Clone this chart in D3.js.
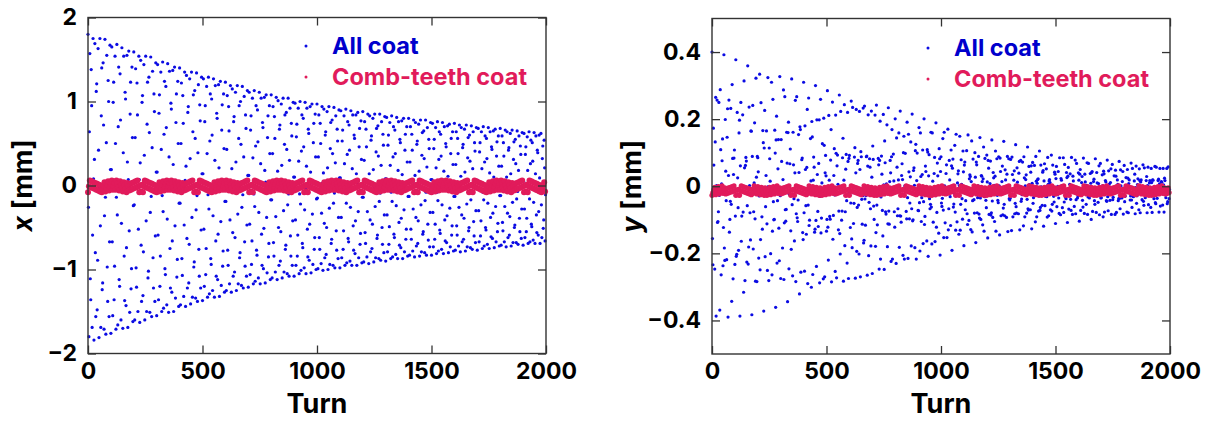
<!DOCTYPE html>
<html>
<head>
<meta charset="utf-8">
<script src="https://cdn.jsdelivr.net/npm/d3@7"></script>
<style>
  html, body { margin: 0; padding: 0; background: #fff; }
  svg { display: block; }
</style>
</head>
<body>
<svg id="chart" width="1209" height="422"></svg>
<script>
// every n-th turn is plotted
const allCoatStep = 2;
const combCoatStep = 4;

const turnTicks = [0, 500, 1000, 1500, 2000];
const xTicks = [-2, -1, 0, 1, 2];
const yTicks = [-0.4, -0.2, 0, 0.2, 0.4];
const legendLabels = ["All coat", "Comb-teeth coat"];

// horizontal position [mm], all coat
const xAllCoat = [
1.80,-0.26,-1.80,0.64,1.57,-1.11,-1.36,1.38,0.95,-1.69,
-0.59,1.75,0.08,-1.84,0.31,1.69,-0.80,-1.56,1.12,1.21,
-1.48,-0.89,1.63,0.42,-1.81,-0.03,1.75,-0.48,-1.69,0.83,
1.40,-1.24,-1.16,1.46,0.72,-1.71,-0.36,1.74,-0.14,-1.77,
0.51,1.55,-0.97,-1.38,1.25,1.00,-1.56,-0.67,1.67,0.19,
-1.76,0.19,1.65,-0.67,-1.55,0.99,1.23,-1.36,-0.96,1.54,
0.50,-1.71,-0.14,1.68,-0.35,-1.66,0.70,1.41,-1.12,-1.20,
1.33,0.78,-1.60,-0.45,1.64,-0.03,-1.70,0.39,1.54,-0.84,
-1.37,1.11,1.03,-1.43,-0.74,1.55,0.28,-1.69,0.07,1.60,
-0.54,-1.51,0.85,1.23,-1.23,-0.99,1.41,0.57,-1.62,-0.24,
1.59,-0.23,-1.60,0.57,1.39,-0.98,-1.21,1.22,0.84,-1.50,
-0.52,1.54,0.07,-1.63,0.27,1.49,-0.71,-1.38,0.99,1.07,
-1.31,-0.79,1.44,0.36,-1.60,-0.03,1.54,-0.42,-1.50,0.73,
1.23,-1.10,-1.02,1.29,0.63,-1.51,-0.32,1.53,-0.13,-1.56,
0.45,1.36,-0.86,-1.22,1.09,0.88,-1.38,-0.60,1.46,0.16,
-1.55,0.16,1.44,-0.59,-1.36,0.86,1.08,-1.20,-0.84,1.35,
0.43,-1.50,-0.12,1.47,-0.31,-1.46,0.61,1.24,-0.99,-1.06,
1.18,0.69,-1.42,-0.40,1.45,-0.03,-1.51,0.34,1.36,-0.75,
-1.22,0.98,0.91,-1.27,-0.66,1.37,0.25,-1.50,0.06,1.41,
-0.48,-1.34,0.75,1.09,-1.09,-0.88,1.24,0.50,-1.44,-0.21,
1.40,-0.21,-1.42,0.50,1.22,-0.87,-1.07,1.07,0.74,-1.32,
-0.47,1.35,0.06,-1.44,0.23,1.31,-0.63,-1.22,0.87,0.94,
-1.16,-0.70,1.27,0.32,-1.41,-0.03,1.35,-0.38,-1.33,0.64,
1.08,-0.97,-0.91,1.13,0.56,-1.34,-0.29,1.34,-0.12,-1.38,
0.39,1.20,-0.76,-1.08,0.96,0.77,-1.22,-0.53,1.29,0.14,
-1.37,0.14,1.27,-0.52,-1.20,0.76,0.95,-1.06,-0.75,1.18,
0.38,-1.33,-0.11,1.29,-0.28,-1.29,0.53,1.09,-0.87,-0.94,
1.03,0.60,-1.25,-0.36,1.27,-0.03,-1.33,0.30,1.19,-0.66,
-1.08,0.86,0.80,-1.12,-0.58,1.20,0.21,-1.32,0.05,1.24,
-0.43,-1.19,0.66,0.96,-0.96,-0.78,1.09,0.44,-1.27,-0.19,
1.23,-0.19,-1.25,0.43,1.07,-0.77,-0.95,0.94,0.65,-1.17,
-0.41,1.19,0.05,-1.27,0.20,1.15,-0.56,-1.08,0.76,0.82,
-1.03,-0.62,1.11,0.28,-1.25,-0.03,1.19,-0.34,-1.17,0.56,
0.95,-0.86,-0.80,1.00,0.49,-1.19,-0.26,1.18,-0.11,-1.22,
0.34,1.06,-0.67,-0.96,0.84,0.68,-1.08,-0.47,1.13,0.12,
-1.21,0.12,1.11,-0.46,-1.06,0.66,0.83,-0.94,-0.66,1.04,
0.33,-1.17,-0.10,1.13,-0.25,-1.14,0.47,0.95,-0.77,-0.83,
0.90,0.52,-1.10,-0.32,1.11,-0.03,-1.17,0.26,1.04,-0.58,
-0.95,0.75,0.69,-0.99,-0.51,1.05,0.18,-1.16,0.04,1.08,
-0.38,-1.04,0.57,0.83,-0.85,-0.69,0.95,0.38,-1.12,-0.17,
1.08,-0.17,-1.10,0.38,0.94,-0.68,-0.84,0.82,0.56,-1.03,
-0.37,1.05,0.04,-1.12,0.17,1.01,-0.50,-0.95,0.67,0.72,
-0.90,-0.55,0.97,0.24,-1.10,-0.03,1.04,-0.30,-1.03,0.49,
0.84,-0.76,-0.71,0.87,0.43,-1.05,-0.23,1.04,-0.10,-1.08,
0.30,0.92,-0.60,-0.84,0.74,0.59,-0.95,-0.42,0.99,0.10,
-1.08,0.10,0.98,-0.41,-0.95,0.58,0.73,-0.84,-0.59,0.92,
0.29,-1.05,-0.10,1.00,-0.22,-1.01,0.41,0.84,-0.69,-0.74,
0.80,0.46,-0.98,-0.29,0.99,-0.03,-1.05,0.23,0.92,-0.52,
-0.85,0.67,0.62,-0.89,-0.46,0.94,0.16,-1.04,0.03,0.97,
-0.34,-0.94,0.51,0.74,-0.76,-0.62,0.85,0.34,-1.00,-0.16,
0.97,-0.15,-0.99,0.34,0.84,-0.62,-0.76,0.74,0.50,-0.93,
-0.33,0.94,0.03,-1.01,0.15,0.91,-0.45,-0.86,0.60,0.64,
-0.82,-0.50,0.88,0.21,-1.00,-0.03,0.94,-0.27,-0.94,0.44,
0.75,-0.69,-0.64,0.78,0.38,-0.95,-0.21,0.93,-0.09,-0.98,
0.27,0.83,-0.54,-0.77,0.67,0.53,-0.87,-0.38,0.90,0.09,
-0.98,0.09,0.89,-0.38,-0.86,0.53,0.66,-0.76,-0.54,0.83,
0.26,-0.95,-0.09,0.91,-0.21,-0.92,0.37,0.76,-0.63,-0.67,
0.72,0.42,-0.90,-0.26,0.89,-0.03,-0.95,0.20,0.84,-0.48,
-0.77,0.60,0.56,-0.81,-0.42,0.84,0.14,-0.95,0.03,0.87,
-0.31,-0.86,0.46,0.68,-0.70,-0.57,0.77,0.31,-0.92,-0.14,
0.88,-0.14,-0.91,0.30,0.76,-0.56,-0.69,0.67,0.46,-0.85,
-0.31,0.85,0.03,-0.93,0.14,0.83,-0.41,-0.79,0.54,0.59,
-0.75,-0.46,0.80,0.19,-0.91,-0.03,0.85,-0.25,-0.86,0.40,
0.68,-0.63,-0.59,0.71,0.35,-0.87,-0.19,0.85,-0.09,-0.89,
0.24,0.76,-0.50,-0.70,0.61,0.48,-0.80,-0.35,0.82,0.08,
-0.90,0.08,0.81,-0.35,-0.79,0.48,0.60,-0.70,-0.49,0.75,
0.24,-0.87,-0.08,0.83,-0.19,-0.85,0.34,0.70,-0.58,-0.62,
0.66,0.38,-0.82,-0.24,0.81,-0.03,-0.87,0.18,0.76,-0.44,
-0.71,0.55,0.51,-0.74,-0.39,0.77,0.13,-0.87,0.02,0.80,
-0.29,-0.79,0.42,0.61,-0.64,-0.52,0.70,0.28,-0.84,-0.13,
0.80,-0.13,-0.83,0.28,0.70,-0.52,-0.64,0.61,0.42,-0.78,
-0.28,0.78,0.02,-0.85,0.12,0.75,-0.38,-0.72,0.49,0.53,
-0.69,-0.42,0.73,0.17,-0.84,-0.03,0.78,-0.23,-0.79,0.36,
0.63,-0.58,-0.55,0.65,0.32,-0.80,-0.18,0.78,-0.08,-0.83,
0.22,0.69,-0.46,-0.65,0.55,0.44,-0.73,-0.32,0.75,0.07,
-0.83,0.07,0.74,-0.32,-0.73,0.44,0.55,-0.64,-0.46,0.69,
0.21,-0.81,-0.08,0.76,-0.18,-0.78,0.31,0.64,-0.53,-0.57,
0.61,0.35,-0.76,-0.23,0.75,-0.03,-0.81,0.17,0.70,-0.41,
-0.66,0.50,0.46,-0.68,-0.36,0.71,0.11,-0.80,0.02,0.73,
-0.27,-0.73,0.38,0.56,-0.59,-0.48,0.64,0.25,-0.78,-0.13,
0.74,-0.13,-0.77,0.25,0.64,-0.48,-0.59,0.56,0.38,-0.72,
-0.26,0.72,0.02,-0.79,0.11,0.69,-0.35,-0.67,0.45,0.49,
-0.64,-0.39,0.67,0.16,-0.78,-0.03,0.72,-0.22,-0.73,0.33,
0.57,-0.54,-0.50,0.60,0.29,-0.74,-0.17,0.71,-0.08,-0.76,
0.20,0.64,-0.43,-0.60,0.51,0.41,-0.68,-0.30,0.69,0.06,
-0.77,0.06,0.68,-0.30,-0.67,0.40,0.51,-0.60,-0.42,0.64,
0.20,-0.75,-0.08,0.70,-0.17,-0.72,0.28,0.59,-0.50,-0.53,
0.56,0.32,-0.70,-0.21,0.69,-0.03,-0.75,0.15,0.64,-0.38,
-0.61,0.46,0.43,-0.63,-0.33,0.65,0.10,-0.74,0.02,0.67,
-0.25,-0.67,0.35,0.52,-0.55,-0.45,0.59,0.23,-0.72,-0.12,
0.68,-0.12,-0.71,0.23,0.59,-0.44,-0.54,0.51,0.35,-0.67,
-0.25,0.66,0.01,-0.73,0.10,0.64,-0.33,-0.62,0.42,0.45,
-0.59,-0.37,0.62,0.14,-0.72,-0.03,0.66,-0.20,-0.68,0.31,
0.52,-0.50,-0.47,0.55,0.26,-0.68,-0.16,0.65,-0.07,-0.70,
0.18,0.59,-0.39,-0.55,0.47,0.37,-0.63,-0.28,0.63,0.06,
-0.71,0.05,0.62,-0.28,-0.62,0.37,0.46,-0.55,-0.39,0.58,
0.18,-0.69,-0.07,0.64,-0.16,-0.67,0.26,0.54,-0.46,-0.49,
0.51,0.29,-0.65,-0.20,0.63,-0.03,-0.69,0.14,0.59,-0.35,
-0.56,0.42,0.39,-0.59,-0.31,0.60,0.09,-0.69,0.01,0.62,
-0.23,-0.62,0.32,0.47,-0.51,-0.41,0.54,0.21,-0.66,-0.11
];

// horizontal position [mm], comb-teeth coat
const xCombCoat = [
-0.08,-0.01,0.06,-0.02,0.05,-0.03,0.04,-0.04,0.03,-0.05,0.02,-0.06,0.01,-0.07,0.00,
-0.08,-0.04,0.00,0.04,-0.07,-0.03,0.01,0.05,-0.06,-0.02,0.02,0.06,-0.05,-0.01,0.03,
-0.05,0.06,0.02,-0.02,-0.06,0.05,0.01,-0.03,-0.07,0.04,0.00,-0.04,-0.08,0.03,-0.01,
-0.06,0.02,-0.05,0.03,-0.04,0.04,-0.03,0.05,-0.02,0.06,-0.01,-0.08,0.00,-0.07,0.01,
-0.08,-0.01,0.06,-0.02,0.05,-0.03,0.04,-0.04,0.03,-0.05,0.02,-0.06,0.01,-0.07,0.00,
-0.08,-0.04,0.00,0.04,-0.07,-0.03,0.01,0.05,-0.06,-0.02,0.02,0.06,-0.05,-0.01,0.03,
-0.05,0.06,0.02,-0.02,-0.06,0.05,0.01,-0.03,-0.07,0.04,0.00,-0.04,-0.08,0.03,-0.01,
-0.06,0.02,-0.05,0.03,-0.04,0.04,-0.03,0.05,-0.02,0.06,-0.01,-0.08,0.00,-0.07,0.01,
-0.08,-0.01,0.06,-0.02,0.05,-0.03,0.04,-0.04,0.03,-0.05,0.02,-0.06,0.01,-0.07,0.00,
-0.08,-0.04,0.00,0.04,-0.07,-0.03,0.01,0.05,-0.06,-0.02,0.02,0.06,-0.05,-0.01,0.03,
-0.05,0.06,0.02,-0.02,-0.06,0.05,0.01,-0.03,-0.07,0.04,0.00,-0.04,-0.08,0.03,-0.01,
-0.06,0.02,-0.05,0.03,-0.04,0.04,-0.03,0.05,-0.02,0.06,-0.01,-0.08,0.00,-0.07,0.01,
-0.08,-0.01,0.06,-0.02,0.05,-0.03,0.04,-0.04,0.03,-0.05,0.02,-0.06,0.01,-0.07,0.00,
-0.08,-0.04,0.00,0.04,-0.07,-0.03,0.01,0.05,-0.06,-0.02,0.02,0.06,-0.05,-0.01,0.03,
-0.05,0.06,0.02,-0.02,-0.06,0.05,0.01,-0.03,-0.07,0.04,0.00,-0.04,-0.08,0.03,-0.01,
-0.06,0.02,-0.05,0.03,-0.04,0.04,-0.03,0.05,-0.02,0.06,-0.01,-0.08,0.00,-0.07,0.01,
-0.08,-0.01,0.06,-0.02,0.05,-0.03,0.04,-0.04,0.03,-0.05,0.02,-0.06,0.01,-0.07,0.00,
-0.08,-0.04,0.00,0.04,-0.07,-0.03,0.01,0.05,-0.06,-0.02,0.02,0.06,-0.05,-0.01,0.03,
-0.05,0.06,0.02,-0.02,-0.06,0.05,0.01,-0.03,-0.07,0.04,0.00,-0.04,-0.08,0.03,-0.01,
-0.06,0.02,-0.05,0.03,-0.04,0.04,-0.03,0.05,-0.02,0.06,-0.01,-0.08,0.00,-0.07,0.01,
-0.08,-0.01,0.06,-0.02,0.05,-0.03,0.04,-0.04,0.03,-0.05,0.02,-0.06,0.01,-0.07,0.00,
-0.08,-0.04,0.00,0.04,-0.07,-0.03,0.01,0.05,-0.06,-0.02,0.02,0.06,-0.05,-0.01,0.03,
-0.05,0.06,0.02,-0.02,-0.06,0.05,0.01,-0.03,-0.07,0.04,0.00,-0.04,-0.08,0.03,-0.01,
-0.06,0.02,-0.05,0.03,-0.04,0.04,-0.03,0.05,-0.02,0.06,-0.01,-0.08,0.00,-0.07,0.01,
-0.08,-0.01,0.06,-0.02,0.05,-0.03,0.04,-0.04,0.03,-0.05,0.02,-0.06,0.01,-0.07,0.00,
-0.08,-0.04,0.00,0.04,-0.07,-0.03,0.01,0.05,-0.06,-0.02,0.02,0.06,-0.05,-0.01,0.03,
-0.05,0.06,0.02,-0.02,-0.06,0.05,0.01,-0.03,-0.07,0.04,0.00,-0.04,-0.08,0.03,-0.01,
-0.06,0.02,-0.05,0.03,-0.04,0.04,-0.03,0.05,-0.02,0.06,-0.01,-0.08,0.00,-0.07,0.01,
-0.08,-0.01,0.06,-0.02,0.05,-0.03,0.04,-0.04,0.03,-0.05,0.02,-0.06,0.01,-0.07,0.00,
-0.08,-0.04,0.00,0.04,-0.07,-0.03,0.01,0.05,-0.06,-0.02,0.02,0.06,-0.05,-0.01,0.03,
-0.05,0.06,0.02,-0.02,-0.06,0.05,0.01,-0.03,-0.07,0.04,0.00,-0.04,-0.08,0.03,-0.01,
-0.06,0.02,-0.05,0.03,-0.04,0.04,-0.03,0.05,-0.02,0.06,-0.01,-0.08,0.00,-0.07,0.01,
-0.08,-0.01,0.06,-0.02,0.05,-0.03,0.04,-0.04,0.03,-0.05,0.02,-0.06,0.01,-0.07,0.00,
-0.08,-0.04,0.00,0.04,-0.07
];

// vertical position [mm], all coat
const yAllCoat = [
0.400,-0.156,-0.234,0.173,0.063,-0.020,-0.247,0.132,0.265,-0.387,
0.002,0.257,-0.108,-0.105,-0.076,0.250,-0.027,-0.369,0.288,0.109,
-0.264,0.007,0.076,0.141,-0.237,-0.123,0.392,-0.184,-0.221,0.199,
0.045,-0.043,-0.219,0.146,0.231,-0.390,0.032,0.257,-0.137,-0.099,
-0.045,0.232,-0.054,-0.343,0.303,0.083,-0.276,0.035,0.084,0.108,
-0.233,-0.089,0.377,-0.209,-0.203,0.220,0.025,-0.064,-0.191,0.159,
0.197,-0.387,0.061,0.250,-0.164,-0.089,-0.016,0.213,-0.077,-0.316,
0.314,0.055,-0.281,0.062,0.086,0.075,-0.226,-0.058,0.359,-0.232,
-0.181,0.236,0.002,-0.079,-0.160,0.165,0.164,-0.383,0.089,0.241,
-0.187,-0.076,0.010,0.189,-0.097,-0.283,0.322,0.027,-0.284,0.089,
0.085,0.043,-0.214,-0.029,0.334,-0.249,-0.159,0.249,-0.022,-0.091,
-0.128,0.166,0.130,-0.372,0.114,0.226,-0.210,-0.061,0.032,0.165,
-0.112,-0.251,0.324,-0.001,-0.281,0.114,0.082,0.015,-0.201,-0.003,
0.310,-0.264,-0.134,0.259,-0.046,-0.100,-0.099,0.167,0.099,-0.361,
0.138,0.209,-0.229,-0.043,0.052,0.139,-0.125,-0.222,0.327,-0.028,
-0.275,0.139,0.074,-0.012,-0.184,0.020,0.287,-0.278,-0.109,0.267,
-0.070,-0.104,-0.069,0.161,0.069,-0.344,0.160,0.191,-0.246,-0.024,
0.067,0.111,-0.133,-0.188,0.320,-0.055,-0.267,0.161,0.064,-0.037,
-0.163,0.040,0.256,-0.284,-0.082,0.267,-0.094,-0.105,-0.041,0.154,
0.041,-0.321,0.177,0.169,-0.256,-0.003,0.079,0.084,-0.138,-0.159,
0.310,-0.079,-0.253,0.180,0.050,-0.058,-0.143,0.056,0.229,-0.290,
-0.056,0.263,-0.117,-0.101,-0.014,0.142,0.016,-0.301,0.193,0.147,
-0.263,0.018,0.087,0.057,-0.137,-0.128,0.300,-0.102,-0.239,0.198,
0.035,-0.075,-0.120,0.068,0.198,-0.288,-0.030,0.259,-0.139,-0.095,
0.010,0.127,-0.007,-0.276,0.203,0.122,-0.270,0.040,0.092,0.031,
-0.134,-0.099,0.285,-0.122,-0.220,0.211,0.018,-0.090,-0.098,0.078,
0.169,-0.285,-0.006,0.251,-0.158,-0.087,0.032,0.112,-0.026,-0.254,
0.212,0.098,-0.273,0.061,0.093,0.006,-0.130,-0.074,0.272,-0.141,
-0.202,0.223,0.000,-0.101,-0.074,0.085,0.143,-0.283,0.018,0.243,
-0.177,-0.076,0.051,0.095,-0.043,-0.229,0.220,0.074,-0.275,0.083,
0.092,-0.018,-0.123,-0.050,0.254,-0.157,-0.183,0.235,-0.019,-0.111,
-0.051,0.087,0.115,-0.274,0.040,0.229,-0.194,-0.063,0.068,0.077,
-0.056,-0.202,0.223,0.050,-0.270,0.103,0.088,-0.039,-0.113,-0.028,
0.233,-0.169,-0.161,0.239,-0.038,-0.116,-0.028,0.088,0.090,-0.265,
0.060,0.213,-0.207,-0.048,0.082,0.057,-0.067,-0.178,0.224,0.027,
-0.260,0.120,0.080,-0.059,-0.099,-0.009,0.212,-0.179,-0.138,0.242,
-0.056,-0.115,-0.006,0.083,0.064,-0.247,0.077,0.194,-0.217,-0.032,
0.090,0.036,-0.072,-0.148,0.214,0.004,-0.248,0.135,0.070,-0.076,
-0.083,0.007,0.183,-0.180,-0.112,0.234,-0.074,-0.113,0.014,0.077,
0.040,-0.224,0.088,0.169,-0.217,-0.015,0.096,0.016,-0.076,-0.122,
0.201,-0.016,-0.230,0.144,0.057,-0.088,-0.067,0.019,0.159,-0.182,
-0.088,0.224,-0.089,-0.107,0.032,0.067,0.020,-0.206,0.100,0.149,
-0.217,0.001,0.098,-0.003,-0.075,-0.097,0.191,-0.034,-0.215,0.155,
0.043,-0.097,-0.050,0.028,0.132,-0.178,-0.067,0.215,-0.103,-0.100,
0.047,0.055,0.003,-0.183,0.106,0.125,-0.217,0.017,0.099,-0.021,
-0.072,-0.073,0.175,-0.049,-0.193,0.159,0.029,-0.105,-0.034,0.035,
0.108,-0.171,-0.046,0.201,-0.114,-0.090,0.060,0.044,-0.011,-0.163,
0.109,0.102,-0.209,0.031,0.094,-0.037,-0.067,-0.054,0.161,-0.062,
-0.172,0.159,0.015,-0.107,-0.018,0.038,0.086,-0.165,-0.028,0.189,
-0.122,-0.078,0.069,0.031,-0.023,-0.140,0.112,0.082,-0.205,0.044,
0.088,-0.050,-0.060,-0.036,0.142,-0.071,-0.153,0.161,0.001,-0.109,
-0.003,0.038,0.064,-0.153,-0.012,0.170,-0.130,-0.067,0.077,0.019,
-0.031,-0.117,0.108,0.061,-0.191,0.054,0.081,-0.062,-0.053,-0.021,
0.122,-0.077,-0.131,0.155,-0.012,-0.106,0.010,0.037,0.046,-0.143,
0.002,0.149,-0.131,-0.054,0.079,0.006,-0.037,-0.098,0.105,0.043,
-0.177,0.063,0.072,-0.070,-0.043,-0.009,0.106,-0.082,-0.114,0.153,
-0.024,-0.102,0.022,0.034,0.029,-0.129,0.014,0.135,-0.136,-0.043,
0.081,-0.006,-0.040,-0.080,0.100,0.027,-0.168,0.072,0.064,-0.079,
-0.034,0.001,0.089,-0.083,-0.095,0.145,-0.035,-0.099,0.032,0.030,
0.014,-0.115,0.022,0.117,-0.134,-0.031,0.083,-0.017,-0.042,-0.064,
0.093,0.013,-0.154,0.077,0.054,-0.084,-0.026,0.008,0.075,-0.086,
-0.079,0.138,-0.044,-0.093,0.041,0.025,0.003,-0.105,0.030,0.105,
-0.134,-0.020,0.082,-0.027,-0.042,-0.049,0.088,0.001,-0.145,0.084,
0.044,-0.088,-0.016,0.014,0.060,-0.085,-0.065,0.134,-0.054,-0.088,
0.049,0.019,-0.007,-0.093,0.036,0.089,-0.135,-0.010,0.082,-0.037,
-0.041,-0.036,0.080,-0.010,-0.132,0.087,0.035,-0.091,-0.007,0.018,
0.046,-0.082,-0.051,0.124,-0.061,-0.080,0.055,0.012,-0.016,-0.082,
0.039,0.074,-0.130,0.000,0.077,-0.045,-0.038,-0.025,0.072,-0.019,
-0.118,0.088,0.025,-0.091,0.001,0.020,0.034,-0.080,-0.039,0.117,
-0.067,-0.071,0.059,0.005,-0.022,-0.070,0.042,0.061,-0.127,0.009,
0.071,-0.051,-0.034,-0.015,0.062,-0.026,-0.106,0.089,0.015,-0.091,
0.009,0.020,0.022,-0.074,-0.028,0.105,-0.072,-0.063,0.063,-0.002,
-0.027,-0.057,0.042,0.047,-0.119,0.016,0.067,-0.058,-0.030,-0.006,
0.052,-0.031,-0.092,0.086,0.006,-0.088,0.016,0.020,0.011,-0.070,
-0.018,0.093,-0.074,-0.054,0.063,-0.008,-0.030,-0.047,0.042,0.036,
-0.111,0.023,0.059,-0.061,-0.025,0.000,0.044,-0.035,-0.081,0.085,
-0.002,-0.085,0.023,0.018,0.002,-0.064,-0.010,0.085,-0.078,-0.047,
0.065,-0.015,-0.033,-0.037,0.041,0.026,-0.108,0.030,0.056,-0.068,
-0.020,0.006,0.037,-0.039,-0.072,0.086,-0.010,-0.084,0.030,0.016,
-0.006,-0.060,-0.003,0.078,-0.082,-0.040,0.068,-0.022,-0.035,-0.029,
0.040,0.018,-0.104,0.036,0.050,-0.072,-0.015,0.011,0.029,-0.042,
-0.062,0.084,-0.017,-0.081,0.036,0.013,-0.013,-0.054,0.003,0.070,
-0.084,-0.032,0.068,-0.029,-0.035,-0.021,0.038,0.009,-0.099,0.041,
0.044,-0.075,-0.009,0.014,0.021,-0.043,-0.054,0.082,-0.024,-0.078,
0.041,0.010,-0.019,-0.048,0.008,0.061,-0.085,-0.025,0.068,-0.035,
-0.034,-0.013,0.034,0.002,-0.091,0.045,0.037,-0.077,-0.004,0.017,
0.013,-0.043,-0.045,0.078,-0.031,-0.073,0.046,0.006,-0.024,-0.042,
0.011,0.052,-0.084,-0.018,0.065,-0.040,-0.033,-0.006,0.031,-0.005,
-0.084,0.048,0.030,-0.078,0.002,0.019,0.006,-0.043,-0.037,0.074,
-0.036,-0.067,0.049,0.001,-0.028,-0.035,0.014,0.044,-0.083,-0.011,
0.062,-0.046,-0.030,0.000,0.026,-0.010,-0.077,0.050,0.024,-0.079,
0.008,0.019,-0.001,-0.041,-0.029,0.069,-0.041,-0.063,0.053,-0.003,
-0.031,-0.029,0.016,0.036,-0.082,-0.004,0.060,-0.051,-0.028,0.005,
0.022,-0.015,-0.070,0.052,0.017,-0.079,0.013,0.019,-0.007,-0.040,
-0.022,0.064,-0.045,-0.057,0.055,-0.008,-0.034,-0.023,0.017,0.029,
-0.079,0.002,0.057,-0.055,-0.024,0.010,0.017,-0.019,-0.063,0.053,
0.011,-0.078,0.019,0.018,-0.013,-0.037,-0.016,0.059,-0.049,-0.052,
0.057,-0.013,-0.036,-0.016,0.017,0.021,-0.077,0.007,0.053,-0.059,
-0.021,0.014,0.012,-0.022,-0.056,0.053,0.004,-0.077,0.024,0.017,
-0.019,-0.034,-0.011,0.053,-0.052,-0.046,0.058,-0.019,-0.037,-0.010
];

// vertical position [mm], comb-teeth coat
const yCombCoat = [
-0.027,-0.019,-0.011,-0.003,-0.025,-0.017,-0.009,-0.001,-0.023,-0.015,-0.007,0.001,-0.021,-0.013,-0.005,
-0.023,-0.007,-0.021,-0.005,-0.019,-0.003,-0.017,-0.001,-0.015,0.001,-0.013,-0.027,-0.011,-0.025,-0.009,
-0.027,-0.013,0.001,-0.015,-0.001,-0.017,-0.003,-0.019,-0.005,-0.021,-0.007,-0.023,-0.009,-0.025,-0.011,
-0.021,0.001,-0.007,-0.015,-0.023,-0.001,-0.009,-0.017,-0.025,-0.003,-0.011,-0.019,-0.027,-0.005,-0.013,
-0.027,-0.019,-0.011,-0.003,-0.025,-0.017,-0.009,-0.001,-0.023,-0.015,-0.007,0.001,-0.021,-0.013,-0.005,
-0.023,-0.007,-0.021,-0.005,-0.019,-0.003,-0.017,-0.001,-0.015,0.001,-0.013,-0.027,-0.011,-0.025,-0.009,
-0.027,-0.013,0.001,-0.015,-0.001,-0.017,-0.003,-0.019,-0.005,-0.021,-0.007,-0.023,-0.009,-0.025,-0.011,
-0.021,0.001,-0.007,-0.015,-0.023,-0.001,-0.009,-0.017,-0.025,-0.003,-0.011,-0.019,-0.027,-0.005,-0.013,
-0.027,-0.019,-0.011,-0.003,-0.025,-0.017,-0.009,-0.001,-0.023,-0.015,-0.007,0.001,-0.021,-0.013,-0.005,
-0.023,-0.007,-0.021,-0.005,-0.019,-0.003,-0.017,-0.001,-0.015,0.001,-0.013,-0.027,-0.011,-0.025,-0.009,
-0.027,-0.013,0.001,-0.015,-0.001,-0.017,-0.003,-0.019,-0.005,-0.021,-0.007,-0.023,-0.009,-0.025,-0.011,
-0.021,0.001,-0.007,-0.015,-0.023,-0.001,-0.009,-0.017,-0.025,-0.003,-0.011,-0.019,-0.027,-0.005,-0.013,
-0.027,-0.019,-0.011,-0.003,-0.025,-0.017,-0.009,-0.001,-0.023,-0.015,-0.007,0.001,-0.021,-0.013,-0.005,
-0.023,-0.007,-0.021,-0.005,-0.019,-0.003,-0.017,-0.001,-0.015,0.001,-0.013,-0.027,-0.011,-0.025,-0.009,
-0.027,-0.013,0.001,-0.015,-0.001,-0.017,-0.003,-0.019,-0.005,-0.021,-0.007,-0.023,-0.009,-0.025,-0.011,
-0.021,0.001,-0.007,-0.015,-0.023,-0.001,-0.009,-0.017,-0.025,-0.003,-0.011,-0.019,-0.027,-0.005,-0.013,
-0.027,-0.019,-0.011,-0.003,-0.025,-0.017,-0.009,-0.001,-0.023,-0.015,-0.007,0.001,-0.021,-0.013,-0.005,
-0.023,-0.007,-0.021,-0.005,-0.019,-0.003,-0.017,-0.001,-0.015,0.001,-0.013,-0.027,-0.011,-0.025,-0.009,
-0.027,-0.013,0.001,-0.015,-0.001,-0.017,-0.003,-0.019,-0.005,-0.021,-0.007,-0.023,-0.009,-0.025,-0.011,
-0.021,0.001,-0.007,-0.015,-0.023,-0.001,-0.009,-0.017,-0.025,-0.003,-0.011,-0.019,-0.027,-0.005,-0.013,
-0.027,-0.019,-0.011,-0.003,-0.025,-0.017,-0.009,-0.001,-0.023,-0.015,-0.007,0.001,-0.021,-0.013,-0.005,
-0.023,-0.007,-0.021,-0.005,-0.019,-0.003,-0.017,-0.001,-0.015,0.001,-0.013,-0.027,-0.011,-0.025,-0.009,
-0.027,-0.013,0.001,-0.015,-0.001,-0.017,-0.003,-0.019,-0.005,-0.021,-0.007,-0.023,-0.009,-0.025,-0.011,
-0.021,0.001,-0.007,-0.015,-0.023,-0.001,-0.009,-0.017,-0.025,-0.003,-0.011,-0.019,-0.027,-0.005,-0.013,
-0.027,-0.019,-0.011,-0.003,-0.025,-0.017,-0.009,-0.001,-0.023,-0.015,-0.007,0.001,-0.021,-0.013,-0.005,
-0.023,-0.007,-0.021,-0.005,-0.019,-0.003,-0.017,-0.001,-0.015,0.001,-0.013,-0.027,-0.011,-0.025,-0.009,
-0.027,-0.013,0.001,-0.015,-0.001,-0.017,-0.003,-0.019,-0.005,-0.021,-0.007,-0.023,-0.009,-0.025,-0.011,
-0.021,0.001,-0.007,-0.015,-0.023,-0.001,-0.009,-0.017,-0.025,-0.003,-0.011,-0.019,-0.027,-0.005,-0.013,
-0.027,-0.019,-0.011,-0.003,-0.025,-0.017,-0.009,-0.001,-0.023,-0.015,-0.007,0.001,-0.021,-0.013,-0.005,
-0.023,-0.007,-0.021,-0.005,-0.019,-0.003,-0.017,-0.001,-0.015,0.001,-0.013,-0.027,-0.011,-0.025,-0.009,
-0.027,-0.013,0.001,-0.015,-0.001,-0.017,-0.003,-0.019,-0.005,-0.021,-0.007,-0.023,-0.009,-0.025,-0.011,
-0.021,0.001,-0.007,-0.015,-0.023,-0.001,-0.009,-0.017,-0.025,-0.003,-0.011,-0.019,-0.027,-0.005,-0.013,
-0.027,-0.019,-0.011,-0.003,-0.025,-0.017,-0.009,-0.001,-0.023,-0.015,-0.007,0.001,-0.021,-0.013,-0.005,
-0.023,-0.007,-0.021,-0.005,-0.019
];

const blue = "#0b0be3";
const pink = "#e11b5b";
const font = "Inter, 'Noto Sans', sans-serif";

const svg = d3.select("#chart");

function drawPanel(p) {
	const x = d3.scaleLinear().domain([0, 2000]).range([p.left, p.right]);
	const y = d3.scaleLinear().domain(p.yDomain).range([p.bottom, p.top]);
	const g = svg.append("g");

	g.append("g").selectAll("circle")
		.data(p.all)
		.join("circle")
		.attr("cx", (d, i) => x(i * allCoatStep))
		.attr("cy", d => y(d))
		.attr("r", 1.6)
		.attr("fill", blue);

	g.append("g").selectAll("circle")
		.data(p.comb)
		.join("circle")
		.attr("cx", (d, i) => x(i * combCoatStep))
		.attr("cy", d => y(d))
		.attr("r", p.combR)
		.attr("fill", pink);

	// ticks point inwards on all four sides
	g.append("g")
		.attr("transform", `translate(0,${p.bottom})`)
		.call(d3.axisBottom(x).tickValues(turnTicks).tickSize(-8).tickSizeOuter(0).tickPadding(9).tickFormat(d3.format("d")));
	g.append("g")
		.attr("transform", `translate(${p.left},0)`)
		.call(d3.axisLeft(y).tickValues(p.ticks).tickSize(-8).tickSizeOuter(0).tickPadding(11).tickFormat(p.format));
	g.append("g")
		.attr("transform", `translate(0,${p.top})`)
		.call(d3.axisTop(x).tickValues(turnTicks).tickSize(-8).tickSizeOuter(0).tickFormat(""));
	g.append("g")
		.attr("transform", `translate(${p.right},0)`)
		.call(d3.axisRight(y).tickValues(p.ticks).tickSize(-8).tickSizeOuter(0).tickFormat(""));

	g.selectAll(".domain").remove();
	g.selectAll(".tick line").attr("stroke", "#333").attr("stroke-width", 1.3);
	g.selectAll(".tick text")
		.attr("fill", "#000")
		.attr("font-family", font)
		.attr("font-size", 23)
		.attr("font-weight", 700);

	g.append("rect")
		.attr("x", p.left)
		.attr("y", p.top)
		.attr("width", p.right - p.left)
		.attr("height", p.bottom - p.top)
		.attr("fill", "none")
		.attr("stroke", "#333")
		.attr("stroke-width", 1.4);

	g.append("text")
		.attr("x", (p.left + p.right) / 2)
		.attr("y", 413)
		.attr("text-anchor", "middle")
		.attr("font-family", font)
		.attr("font-size", 27)
		.attr("font-weight", 700)
		.text("Turn");

	const ylab = g.append("text")
		.attr("transform", `translate(${p.labelX},${(p.top + p.bottom) / 2}) rotate(-90)`)
		.attr("text-anchor", "middle")
		.attr("font-family", font)
		.attr("font-size", 27)
		.attr("font-weight", 700);
	ylab.append("tspan").attr("font-style", "italic").text(p.letter);
	ylab.append("tspan").text(" [mm]");

	const legend = g.append("g");
	legendLabels.forEach((label, i) => {
		const c = i === 0 ? blue : pink;
		legend.append("circle")
			.attr("cx", p.legendX)
			.attr("cy", p.legendY + i * 31 - 8)
			.attr("r", 1.5)
			.attr("fill", c);
		legend.append("text")
			.attr("x", p.legendX + 26)
			.attr("y", p.legendY + i * 31)
			.attr("font-family", font)
			.attr("font-size", 23.5)
			.attr("font-weight", 700)
			.attr("fill", i === 0 ? "#0000cc" : pink)
			.text(label);
	});
}

drawPanel({
	left: 88, right: 546, top: 17.5, bottom: 353.5,
	yDomain: [-2, 2], ticks: xTicks, format: d3.format("d"),
	all: xAllCoat, comb: xCombCoat, combR: 3,
	letter: "x", labelX: 32,
	legendX: 306, legendY: 54
});

drawPanel({
	left: 712, right: 1170, top: 18.5, bottom: 354,
	yDomain: [-0.5, 0.5], ticks: yTicks, format: d => d === 0 ? "0" : d3.format(".1f")(d),
	all: yAllCoat, comb: yCombCoat, combR: 2.6,
	letter: "y", labelX: 641,
	legendX: 928, legendY: 56
});
</script>
</body>
</html>
